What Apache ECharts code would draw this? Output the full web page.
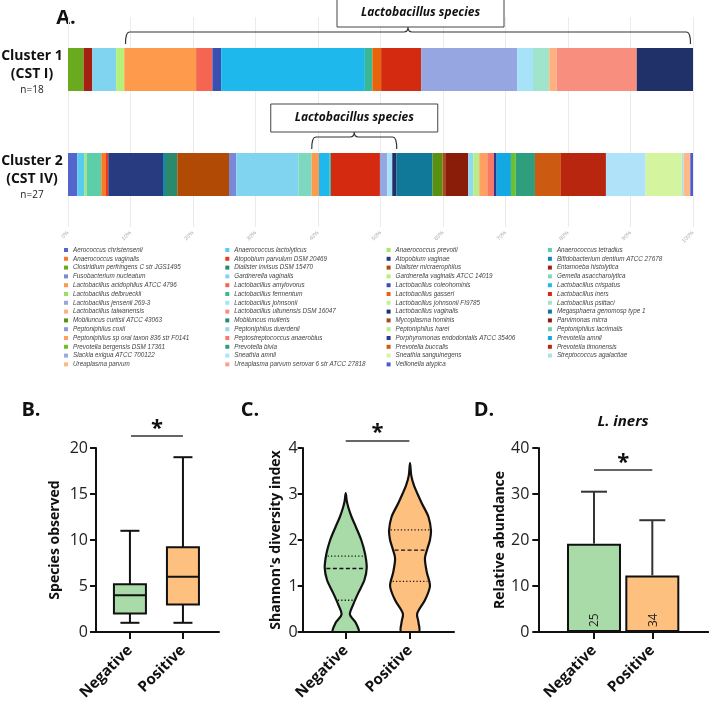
<!DOCTYPE html>
<html><head><meta charset="utf-8">
<script src="https://cdn.jsdelivr.net/npm/echarts@6/dist/echarts.min.js"></script>
<style>html,body{margin:0;padding:0;background:#fff}#c{width:709px;height:702px}</style>
</head><body><div id="c"></div>
<script>
// ---------- Panel A data ----------
const species = [
 'Aerococcus christensenii','Anaerococcus lactolyticus','Anaerococcus prevotii','Anaerococcus tetradius',
 'Anaerococcus vaginalis','Atopobium parvulum DSM 20469','Atopobium vaginae','Bifidobacterium dentium ATCC 27678',
 'Clostridium perfringens C str JGS1495','Dialister invisus DSM 15470','Dialister micraerophilus','Entamoeba histolytica',
 'Fusobacterium nucleatum','Gardnerella vaginalis','Gardnerella vaginalis ATCC 14019','Gemella asaccharolytica',
 'Lactobacillus acidophilus ATCC 4796','Lactobacillus amylovorus','Lactobacillus coleohominis','Lactobacillus crispatus',
 'Lactobacillus delbrueckii','Lactobacillus fermentum','Lactobacillus gasseri','Lactobacillus iners',
 'Lactobacillus jensenii 269-3','Lactobacillus johnsonii','Lactobacillus johnsonii FI9785','Lactobacillus psittaci',
 'Lactobacillus taiwanensis','Lactobacillus ultunensis DSM 16047','Lactobacillus vaginalis','Megasphaera genomosp type 1',
 'Mobiluncus curtisii ATCC 43063','Mobiluncus mulieris','Mycoplasma hominis','Parvimonas micra',
 'Peptoniphilus coxii','Peptoniphilus duerdenii','Peptoniphilus harei','Peptoniphilus lacrimalis',
 'Peptoniphilus sp oral taxon 836 str F0141','Peptostreptococcus anaerobius','Porphyromonas endodontalis ATCC 35406','Prevotella amnii',
 'Prevotella bergensis DSM 17361','Prevotella bivia','Prevotella buccalis','Prevotella timonensis',
 'Slackia exigua ATCC 700122','Sneathia amnii','Sneathia sanguinegens','Streptococcus agalactiae',
 'Ureaplasma parvum','Ureaplasma parvum serovar 6 str ATCC 27818','Veillonella atypica'
];
const speciesColors = [
 '#5466cc','#58ccf0','#a8e860','#5ccfa8',
 '#fa7a2a','#e83a20','#283a80','#1288b8',
 '#6aaa1e','#2a8a6c','#b04a04','#a42010',
 '#7a88d8','#80d4f0','#b4f07a','#7ed8c0',
 '#fd9a4c','#f46552','#3a4fb0','#1eb8ec',
 '#9ae05a','#3ab894','#e8640c','#d42a10',
 '#96a6e0','#a6e2f8','#c4f09a','#a0e4cc',
 '#ffb080','#f88e7e','#203068','#107898',
 '#5a9012','#2a8a70','#a84a14','#8a1c0a',
 '#8a9ae0','#90d8f4','#b8ee88','#70d0b0',
 '#fea060','#f87a66','#2a3a90','#12a8e2',
 '#6cc02a','#2e9e7c','#cc5a10','#b82610',
 '#a0a8e0','#b0e2fa','#d4f4a0','#a8e4e0',
 '#ffb888','#f8a090','#4a5ad0'
];
const cluster1Abundance = [
 0,0,0,0, 0,0,0,0, 2.5,0,0,1.4, 0,3.8,1.3,0,
 11.5,2.6,1.4,23.0, 0,1.2,1.4,6.4, 15.4,2.5,0,2.6, 1.2,12.8,9.0,0,
 0,0,0,0, 0,0,0,0, 0,0,0,0, 0,0,0,0, 0,0,0,0, 0,0,0
];
const cluster2Abundance = [
 1.49,1.17,0.32,2.35, 0.75,0.37,8.75,0.32, 0,1.97,8.27,0, 1.17,9.92,0,2.13,
 1.17,0,0,1.71, 0,0.21,0,7.84, 1.17,0.8,0,0, 0,0,0.69,5.76,
 1.6,0,0.43,3.68, 0,0.8,0.96,0, 1.28,1.07,0.43,2.29, 0.75,3.09,4.16,7.2,
 0,6.35,5.76,0.32, 1.07,0,0.43
];
const clusterNames = ['Cluster 1','Cluster 2'];
const clusterTypes = ['(CST I)','(CST IV)'];
const clusterN = ['n=18','n=27'];
// [start %, end %, cluster index, label box centre %]
const lactoBrackets = [[9.2, 99.6, 0, 56.4],[39.0, 52.6, 1, 45.8]];
const bracketLabel = 'Lactobacillus species';

// ---------- Panels B-D data ----------
const groups = ['Negative','Positive'];
const groupColors = ['#a8dba8','#fdc07f'];
// [min, Q1, median, Q3, max]
const speciesObservedBox = [[1,2,4,5.2,11],[1,3,6,9.2,19]];
// violin outlines: [Shannon value, relative density]
const shannonViolinNeg = [[3.02,0],[2.85,0.05],[2.7,0.13],[2.5,0.28],[2.3,0.47],[2.0,0.74],[1.7,0.92],[1.4,1.0],[1.13,0.89],[0.85,0.6],[0.6,0.36],[0.38,0.2],[0.2,0.48],[0,0.6]];
const shannonViolinPos = [[3.67,0],[3.4,0.06],[3.2,0.18],[3.0,0.36],[2.8,0.56],[2.5,0.88],[2.2,1.0],[2.0,0.95],[1.8,0.82],[1.6,0.71],[1.3,0.8],[1.0,0.95],[0.7,0.72],[0.4,0.34],[0.22,0.4],[0,0.42]];
// [Q1, median, Q3]
const shannonQuartiles = [[0.69,1.38,1.65],[1.1,1.78,2.22]];
const linersMean = [19.2, 12.3];
const linersUpper = [30.5, 24.3];
const linersN = [25, 34];
// significance: [x1, x2, line y, star y]
const sigB = [[1.02, 2.0, 21.3, 22.7]];
const sigC = [[1.0, 1.99, 4.15, 4.46]];
const sigD = [[1.0, 2.0, 35.2, 38.1]];

const OS = '"Open Sans", "DejaVu Sans", sans-serif';

const chart = echarts.init(document.getElementById('c'), null, {renderer:'canvas'});

const barSeries = species.map((name,i)=>({
  name, type:'bar', stack:'abund', xAxisIndex:0, yAxisIndex:0, barWidth:43,
  itemStyle:{color:speciesColors[i]}, data:[cluster1Abundance[i], cluster2Abundance[i]],
  emphasis:{disabled:true}, silent:true
}));

function bracketRender(params, api){
  const x0 = api.value(0), x1 = api.value(1), cat = api.value(2), xc = api.value(3);
  const p0 = api.coord([x0, cat]), p1 = api.coord([x1, cat]), pc = api.coord([xc, cat]);
  const pm = api.coord([(x0+x1)/2, cat]);
  const top = p0[1] - 21.5;
  const yL = top - 16, yE = top - 4, yT = top - 21, r = 4;
  const a = p0[0], b = p1[0], m = pm[0];
  const d = `M${a},${yE} Q${a},${yL} ${a+r},${yL} L${m-r},${yL} Q${m},${yL} ${m},${yT} Q${m},${yL} ${m+r},${yL} L${b-r},${yL} Q${b},${yL} ${b},${yE}`;
  const bw = 167, bh = 28;
  return {type:'group', children:[
    {type:'path', shape:{pathData:d}, style:{stroke:'#333', lineWidth:1.2, fill:null}},
    {type:'rect', shape:{x:pc[0]-bw/2, y:yT-bh, width:bw, height:bh}, style:{fill:'#fff', stroke:'#444', lineWidth:1}},
    {type:'text', x:pc[0], y:yT-bh/2, style:{text:bracketLabel, fill:'#111', font:'italic bold 12px '+OS, textAlign:'center', textVerticalAlign:'middle'}}
  ]};
}

function boxRender(params, api){
  const x = api.value(0);
  const v = [1,2,3,4,5].map(k=>api.value(k));
  const p = v.map(y=>api.coord([x,y]));
  const cx = p[0][0], bw = 16, cw = 9.5;
  const ls = {stroke:'#111', lineWidth:2};
  return {type:'group', children:[
    {type:'line', shape:{x1:cx,y1:p[4][1],x2:cx,y2:p[3][1]}, style:ls},
    {type:'line', shape:{x1:cx,y1:p[1][1],x2:cx,y2:p[0][1]}, style:ls},
    {type:'line', shape:{x1:cx-cw,y1:p[4][1],x2:cx+cw,y2:p[4][1]}, style:ls},
    {type:'line', shape:{x1:cx-cw,y1:p[0][1],x2:cx+cw,y2:p[0][1]}, style:ls},
    {type:'rect', shape:{x:cx-bw,y:p[3][1],width:2*bw,height:p[1][1]-p[3][1]}, style:{fill:groupColors[params.dataIndex], stroke:'#111', lineWidth:2}},
    {type:'line', shape:{x1:cx-bw,y1:p[2][1],x2:cx+bw,y2:p[2][1]}, style:ls}
  ]};
}

function densityAt(prof, y){
  for(let i=0;i<prof.length-1;i++){
    const [ya,da]=prof[i],[yb,db]=prof[i+1];
    if(y<=ya && y>=yb){ const t=(ya-y)/(ya-yb); return da+(db-da)*t; }
  }
  return 0;
}
function violinRender(params, api){
  const i = params.dataIndex, x = api.value(0);
  const prof = i===0 ? shannonViolinNeg : shannonViolinPos;
  const hw = 21;
  const right = [], left = [];
  prof.forEach(([y,d])=>{ const p=api.coord([x,y]); right.push([p[0]+d*hw, p[1]]); });
  prof.slice().reverse().forEach(([y,d])=>{ const p=api.coord([x,y]); left.push([p[0]-d*hw, p[1]]); });
  const pts = right.concat(left.slice(0, left.length-1));
  let minX=Infinity,minY=Infinity,maxX=-Infinity,maxY=-Infinity;
  pts.forEach(([px,py])=>{minX=Math.min(minX,px);maxX=Math.max(maxX,px);minY=Math.min(minY,py);maxY=Math.max(maxY,py);});
  const children = [{type:'polygon', shape:{points:pts, smooth:0.3, smoothConstraint:[[minX,minY],[maxX,maxY]]},
    style:{fill:groupColors[i], stroke:'#111', lineWidth:2.2, lineJoin:'round'}}];
  shannonQuartiles[i].forEach((q,k)=>{
    const p = api.coord([x,q]); const w = densityAt(prof,q)*hw - 1.5;
    children.push({type:'line', shape:{x1:p[0]-w,y1:p[1],x2:p[0]+w,y2:p[1]},
      style:{stroke:'#111', lineWidth:1.4, lineDash: k===1 ? [4,2.5] : [1.2,2.2]}});
  });
  return {type:'group', children};
}

function errRender(params, api){
  const i = params.dataIndex, x = api.value(0);
  const a = api.coord([x, linersMean[i]]), b = api.coord([x, linersUpper[i]]);
  const z = api.coord([x, 0]);
  const ls = {stroke:'#333', lineWidth:2};
  return {type:'group', children:[
    {type:'line', shape:{x1:a[0],y1:a[1],x2:b[0],y2:b[1]}, style:ls},
    {type:'line', shape:{x1:b[0]-13,y1:b[1],x2:b[0]+13,y2:b[1]}, style:ls},
    {type:'text', x:z[0]+1, y:z[1]-5, rotation:Math.PI/2, style:{text:String(linersN[i]), fill:'#222', font:'12px '+OS, textAlign:'left', textVerticalAlign:'middle'}}
  ]};
}

function sigRender(params, api){
  const a = api.coord([api.value(0), api.value(2)]);
  const b = api.coord([api.value(1), api.value(2)]);
  const s = api.coord([(api.value(0)+api.value(1))/2, api.value(3)]);
  return {type:'group', children:[
    {type:'line', shape:{x1:a[0],y1:a[1],x2:b[0],y2:b[1]}, style:{stroke:'#333', lineWidth:1.5}},
    {type:'text', x:s[0], y:s[1]+6, style:{text:'*', fill:'#111', font:'bold 22px '+OS, textAlign:'center', textVerticalAlign:'middle'}}
  ]};
}

function bottomX(grid, min, max){
  return {type:'value', gridIndex:grid, min, max,
    axisLine:{show:true, lineStyle:{color:'#111', width:2}},
    axisTick:{show:true, customValues:[1,2], length:7, lineStyle:{color:'#111', width:2}},
    axisLabel:{show:true, customValues:[1,2], formatter:v=>groups[Math.round(v)-1], rotate:45, margin:16,
      color:'#111', fontFamily:OS, fontWeight:'bold', fontSize:15},
    splitLine:{show:false}};
}
function bottomY(grid, max, interval, name, gap, margin, tick){
  return {type:'value', gridIndex:grid, min:0, max, interval,
    name, nameLocation:'middle', nameGap:gap, nameRotate:90,
    nameTextStyle:{color:'#111', fontFamily:OS, fontWeight:'bold', fontSize:14},
    axisLine:{show:true, lineStyle:{color:'#111', width:2}},
    axisTick:{show:true, length:tick, lineStyle:{color:'#111', width:2}},
    axisLabel:{color:'#222', fontFamily:OS, fontSize:16, margin},
    splitLine:{show:false}};
}

const legendCols = [0,1,2,3].map(c=>({
  data: species.filter((_,i)=>i%4===c), orient:'vertical', left:64+c*161.3, top:245.6,
  itemWidth:4, itemHeight:4, itemGap:0, padding:0, icon:'rect', selectedMode:false,
  textStyle:{fontSize:6.3, fontStyle:'italic', color:'#444', fontFamily:'"Liberation Sans", Arial, sans-serif', lineHeight:8.8}
}));

const option = {
  animation:false,
  backgroundColor:'#fff',
  legend: legendCols,
  grid:[
    {left:68, width:625, top:17, height:210, containLabel:false, outerBoundsMode:'none'},
    {left:96, width:123, top:448, height:184, containLabel:false, outerBoundsMode:'none'},
    {left:302.7, width:151.3, top:448, height:184, containLabel:false, outerBoundsMode:'none'},
    {left:538.3, width:170, top:448, height:184, containLabel:false, outerBoundsMode:'none'}
  ],
  xAxis:[
    {type:'value', gridIndex:0, min:0, max:100, interval:10,
      axisLine:{show:false}, axisTick:{show:false},
      axisLabel:{formatter:'{value}%', rotate:45, fontSize:5.5, color:'#aaa', margin:5, fontFamily:'"Liberation Sans", Arial'},
      splitLine:{show:true, lineStyle:{color:'#ebebeb', width:1}}},
    bottomX(1, 0.36, 2.68),
    bottomX(2, 0.331, 2.684),
    bottomX(3, 0.045, 2.96)
  ],
  yAxis:[
    {type:'category', gridIndex:0, data:clusterNames, inverse:true,
      axisLine:{show:false}, axisTick:{show:false},
      axisLabel:{margin:36, align:'center', padding:[6,0,0,0],
        formatter:(v,i)=>`{b|${clusterNames[i]}}\n{b|${clusterTypes[i]}}\n{n|${clusterN[i]}}`,
        rich:{b:{fontFamily:OS, fontWeight:'bold', fontSize:14, lineHeight:18, color:'#111', align:'center'},
              n:{fontFamily:OS, fontSize:10, lineHeight:14, color:'#222', align:'center'}}}},
    bottomY(1, 20, 5, 'Species observed', 34, 8, 6),
    bottomY(2, 4, 1, "Shannon's diversity index", 20, 5, 5),
    bottomY(3, 40, 10, 'Relative abundance', 30, 9, 6)
  ],
  graphic:[
    {type:'text', x:66, y:18, style:{text:'A.', font:'bold 20px '+OS, fill:'#111', textAlign:'center', textVerticalAlign:'middle'}},
    {type:'text', x:31, y:410, style:{text:'B.', font:'bold 20px '+OS, fill:'#111', textAlign:'center', textVerticalAlign:'middle'}},
    {type:'text', x:250, y:410, style:{text:'C.', font:'bold 20px '+OS, fill:'#111', textAlign:'center', textVerticalAlign:'middle'}},
    {type:'text', x:484, y:410, style:{text:'D.', font:'bold 20px '+OS, fill:'#111', textAlign:'center', textVerticalAlign:'middle'}},
    {type:'text', x:623, y:422, style:{text:'L. iners', font:'italic bold 15px '+OS, fill:'#111', textAlign:'center', textVerticalAlign:'middle'}}
  ],
  series:[
    ...barSeries,
    {type:'custom', xAxisIndex:0, yAxisIndex:0, data:lactoBrackets, encode:{x:[0,1,3], y:2}, renderItem:bracketRender, clip:false, silent:true, z:10},
    {type:'custom', xAxisIndex:1, yAxisIndex:1, data:speciesObservedBox.map((b,i)=>[i+1, ...b]), encode:{x:0, y:[1,2,3,4,5]}, renderItem:boxRender, clip:false, silent:true},
    {type:'custom', xAxisIndex:1, yAxisIndex:1, data:sigB, encode:{x:[0,1], y:[2,3]}, renderItem:sigRender, clip:false, silent:true},
    {type:'custom', xAxisIndex:2, yAxisIndex:2, data:[[1],[2]], encode:{x:0}, renderItem:violinRender, clip:false, silent:true},
    {type:'custom', xAxisIndex:2, yAxisIndex:2, data:sigC, encode:{x:[0,1], y:[2,3]}, renderItem:sigRender, clip:false, silent:true},
    {type:'bar', xAxisIndex:3, yAxisIndex:3, barWidth:54, silent:true,
      data: linersMean.map((m,i)=>({value:[i+1, m], itemStyle:{color:groupColors[i], borderColor:'#111', borderWidth:2}}))},
    {type:'custom', xAxisIndex:3, yAxisIndex:3, data:[[1],[2]], encode:{x:0}, renderItem:errRender, clip:false, silent:true, z:5},
    {type:'custom', xAxisIndex:3, yAxisIndex:3, data:sigD, encode:{x:[0,1], y:[2,3]}, renderItem:sigRender, clip:false, silent:true}
  ]
};
chart.setOption(option);
</script></body></html>
